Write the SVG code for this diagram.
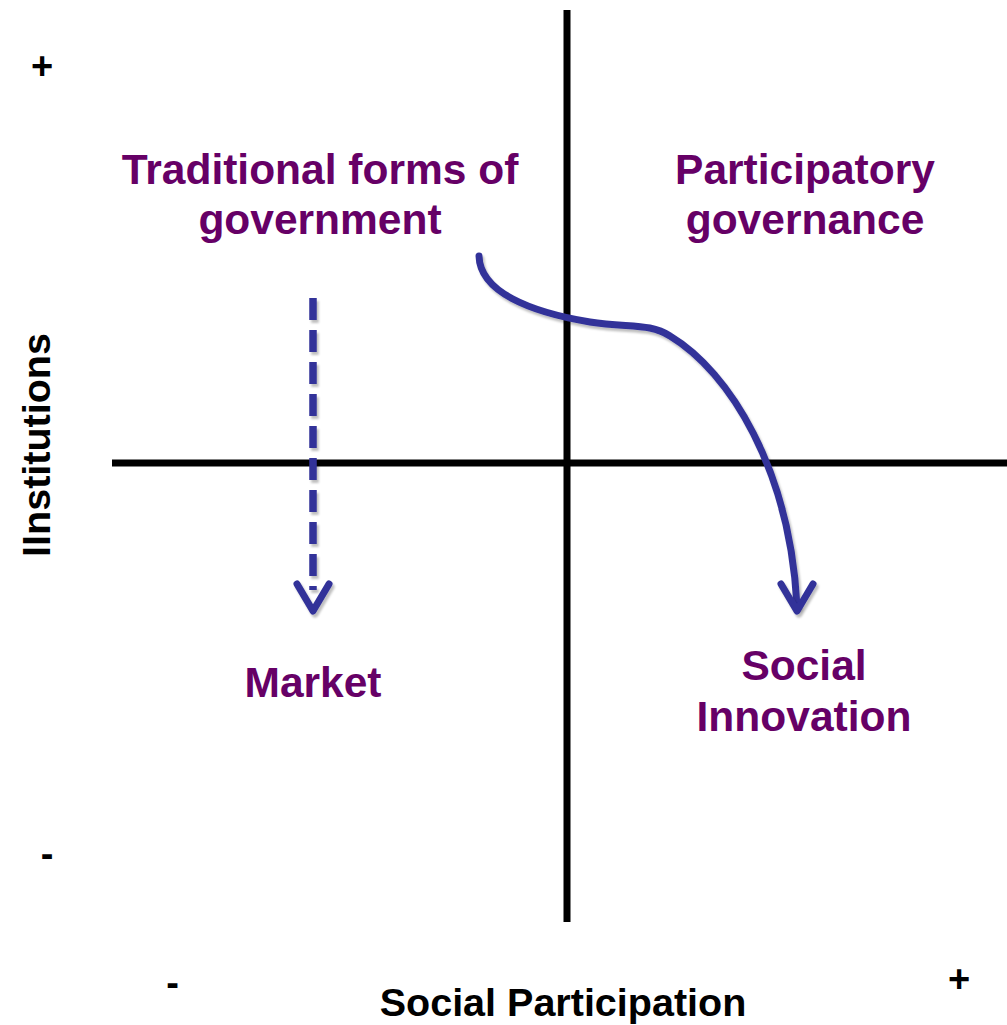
<svg xmlns="http://www.w3.org/2000/svg" width="1007" height="1025" viewBox="0 0 1007 1025">
<style>
.lbl{font-family:"Liberation Sans",Arial,sans-serif;font-weight:bold;font-size:42.5px;fill:#660066;text-anchor:middle}
.ax{font-family:"Liberation Sans",Arial,sans-serif;font-weight:bold;font-size:39.5px;fill:#000;text-anchor:middle}
.sym{font-family:"Liberation Sans",Arial,sans-serif;font-weight:bold;font-size:38px;fill:#000;text-anchor:middle}
.arr{fill:none;stroke:#333399;stroke-width:7;stroke-linecap:round;stroke-linejoin:round;filter:url(#sh)}
.axis{stroke:#000;stroke-width:7}
</style>
<defs>
<filter id="sh" filterUnits="userSpaceOnUse" x="0" y="0" width="1007" height="1025">
<feDropShadow dx="2" dy="3" stdDeviation="1.2" flood-color="#000" flood-opacity="0.25"/>
</filter>
</defs>
<rect width="1007" height="1025" fill="#fff"/>
<g id="axes">
<line class="axis" x1="567" y1="10" x2="567" y2="922"/>
<line class="axis" x1="112" y1="463" x2="1007" y2="463"/>
</g>
<g id="connectors">
<path class="arr" d="M313,298 V590" stroke-dasharray="22,10" style="stroke-linecap:butt;stroke-width:7.5"/>
<path class="arr" d="M297,584 L313,611 L329,584"/>
<path class="arr" d="M479,256 C480,292 530,312 590,322 C630,328 650,323 670,336 C730,372 790,470 797,606"/>
<path class="arr" d="M781,584 L797,611 L813,584"/>
</g>
<g id="node-traditional"><text class="lbl" x="320" y="184">Traditional forms of</text><text class="lbl" x="320" y="234">government</text></g>
<g id="node-participatory"><text class="lbl" x="805" y="184">Participatory</text><text class="lbl" x="805" y="234">governance</text></g>
<g id="node-market"><text class="lbl" x="313" y="697">Market</text></g>
<g id="node-social"><text class="lbl" x="804" y="680">Social</text><text class="lbl" x="804" y="731">Innovation</text></g>
<g id="labels">
<text class="ax" x="563" y="1016">Social Participation</text>
<text class="ax" transform="translate(50,445) rotate(-90)">IInstitutions</text>
<text class="sym" x="42" y="79">+</text>
<text class="sym" x="47" y="867">-</text>
<text class="sym" x="172.5" y="996">-</text>
<text class="sym" x="959" y="992">+</text>
</g>
</svg>
